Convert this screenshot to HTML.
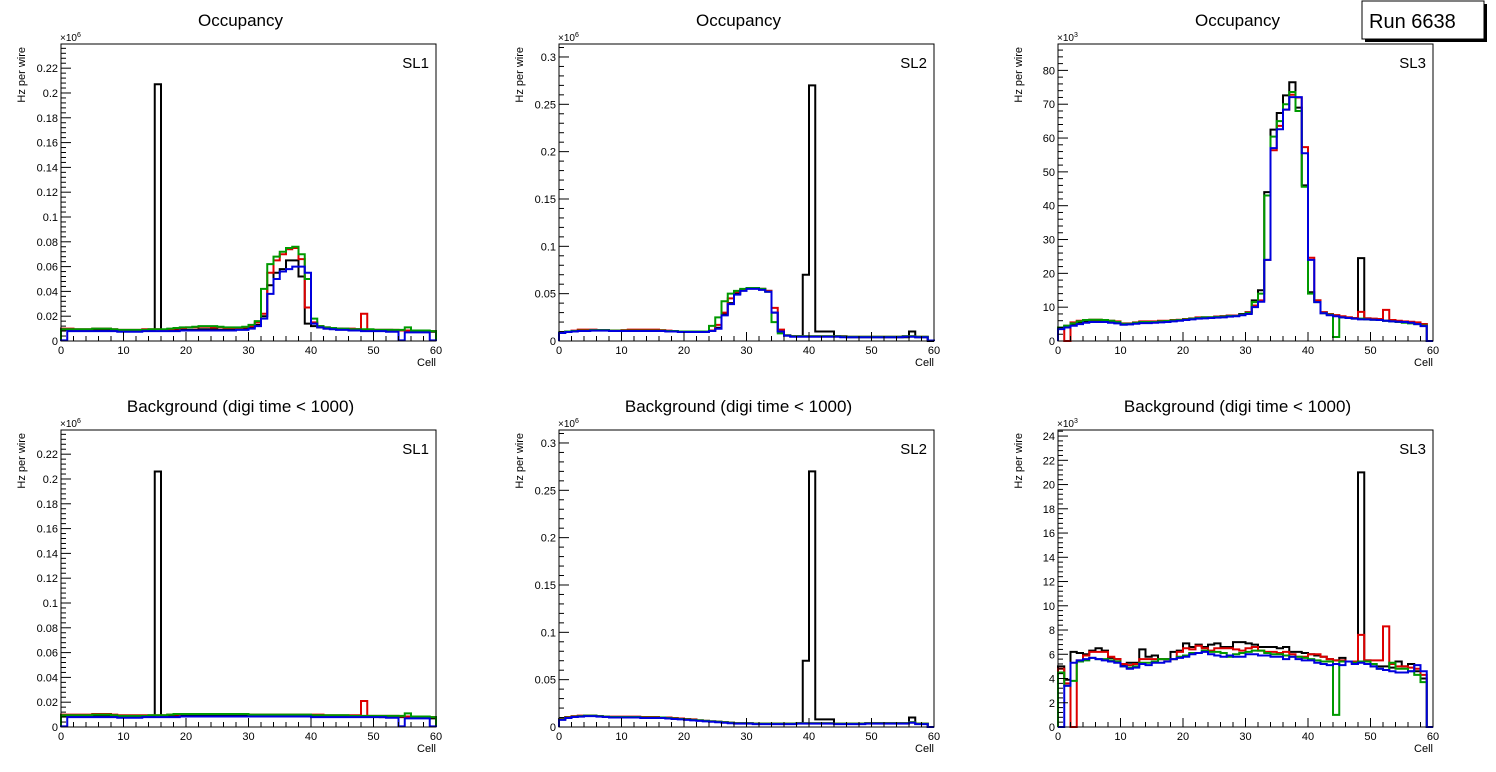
<!DOCTYPE html>
<html><head><meta charset="utf-8"><style>
html,body{margin:0;padding:0;background:#fff;}
svg{display:block;font-family:"Liberation Sans",Arial,sans-serif;}
</style></head><body>
<svg id="c" width="1496" height="772" viewBox="0 0 1496 772"></svg>
<script>
// ---- data (values per Cell bin 0..59) ----
const cells = 60;
// Panel 1: Occupancy SL1 (x1e3)
const occSL1Black=[9,9,9,9,9,9,9,9,8.5,8.5,8.5,8.5,8.5,8.5,8.5,207,8.5,9,9,9,9,9,9.5,9.5,9.5,9,9,9,9.5,10,11,13,20,45,55,58,65,65,52,14,12,11,10,10,10,9.5,9.5,9.5,9,9,9,9,9,8.5,8.5,8.5,8,8,8,7.5];
const occSL1Red=[10,10,9.5,9.5,9.5,10,10,10,9.5,9,9,9,9,9.5,9.5,9.5,9,9.5,10,10.5,11,11,11.5,11.5,11,11,10.5,10.5,10.5,11,12,15,22,55,65,70,74,75,66,27,15,12,11,10.5,10,10,10,9.5,22,9,9,9,9,9,8.5,8.5,8.5,8.5,8,8];
const occSL1Green=[9.5,9.5,9.5,9.5,9.5,10,10,10,9.5,9,9,9,9,9,9.5,9.5,9.5,10,10.5,11,11,11.5,12,12,12,11.5,11,11,11,11.5,13,16,42,62,68,72,75,76,70,50,18,12,11,10.5,10,10,9.5,9.5,9.5,9.5,9,9,9,9,9,11,8.5,8.5,8.5,8];
const occSL1Blue=[0.5,8,8,8,8,8,8,8,8,7.5,7.5,7.5,7.5,8,8,8,8,8,8,8.5,8.5,8.5,8.5,8.5,8.5,8.5,8.5,8.5,9,9,10,12,18,38,50,56,58,60,60,55,14,11,10,9.5,9,9,8.5,8.5,8,8,8,8,7.5,7.5,0.5,7,7,7,7,0.5];
// Panel 2: Occupancy SL2 (x1e3)
const occSL2Black=[9,10,10.5,11,11,11.5,11.5,11.5,11,11,11,11,11,11,11,11,11,10.5,10.5,10,10,10,10,10,11,14,28,40,50,54,56,56,55,53,30,10,6,5,5,70,270,10,10,10,5,5,4,4,4,4,4,4,4,4,4,4,10,4,4,0];
const occSL2Red=[9,10,11,12,12,12,11.5,11.5,11,11,11.5,12,12,12,12,12,11.5,11,10.5,10,10,10,10,10,11,17,30,45,52,54,56,56,55,53,35,12,6,5,5,5,5,5,5,5,5,4.5,4.5,4.5,4.5,4.5,4.5,4.5,4.5,4.5,4.5,5,5,4.5,4.5,0.5];
const occSL2Green=[9,10,10.5,11,11,11.5,11.5,11.5,11,11,11,11,11,11,11,11,11,10.5,10.5,10,10,10,10,10,16,25,42,50,53,55,56,56,55,52,20,8,6,5,5,5,5,5,5,5,5,4.5,4.5,4.5,4.5,4.5,4.5,4.5,4.5,4.5,4.5,5,5,4.5,4.5,0.5];
const occSL2Blue=[8.5,9.5,10,10.5,10.5,11,11,11,10.5,10.5,10.5,10.5,10.5,10.5,10.5,10.5,10.5,10,10,9.5,9.5,9.5,9.5,9.5,10.5,13,27,39,49,53,55,55,54,52,30,10,5.5,4.5,4.5,4.5,4.5,4.5,4.5,4.5,4.5,4,4,4,4,4,4,4,4,4,4,4.5,4.5,4,4,0.5];
// Panel 3: Occupancy SL3 (x1e3)
const occSL3Black=[4,4.5,5,5.5,5.8,6,6,6,5.8,5.5,5,5,5.2,5.5,5.5,5.5,5.7,5.8,6,6.2,6.3,6.5,6.7,7,7,7.2,7.3,7.5,7.5,8,8.5,12,15,44,62.5,67.4,72.6,76.5,69,46,14.4,12,8.5,8,7.6,7.2,7,6.8,24.5,6.7,6.5,6.3,6,6,5.8,5.7,5.5,5.2,5,0];
const occSL3Red=[4,0,5.5,6,6.2,6.3,6.3,6.2,6,5.8,5.2,5.2,5.5,5.8,5.8,5.8,6,6,6.2,6.3,6.5,6.7,7,7,7,7.2,7.3,7.5,7.5,7.8,8.5,10.5,12,24,56.4,63.6,68.4,72.8,72,57.3,24.6,12,8.5,8,7.6,7.3,7,6.8,8.6,6.7,6.6,6.5,9.2,6.2,6,5.8,5.7,5.5,5,0];
const occSL3Green=[4,4.5,5.2,5.8,6.2,6.3,6.3,6.2,6,5.6,5.1,5.1,5.4,5.6,5.6,5.6,5.8,5.9,6.1,6.2,6.4,6.6,6.8,7,7,7.1,7.2,7.4,7.4,7.8,8.3,11.5,14,43,60.4,65,70,73.6,68,45.6,14,11.5,8.2,7.8,1.2,7,6.8,6.6,6.6,6.4,6.3,6.2,6,5.8,5.6,5.4,5.2,5,4.6,0];
const occSL3Blue=[3.5,4,4.5,5,5.4,5.6,5.6,5.6,5.4,5.2,4.8,4.9,5.1,5.3,5.3,5.4,5.5,5.6,5.8,6,6.2,6.4,6.6,6.7,6.8,6.9,7,7.2,7.3,7.6,8,10,11.6,24,57,62.6,68.4,72.1,72.1,55.5,24,11.5,8.2,7.6,7.3,7,6.8,6.6,6.4,6.4,6.3,6.2,6,5.8,5.7,5.6,5.4,5,4.4,0];
// Panel 4: Background SL1 (x1e3)
const bkgSL1Black=[8.5,9,9,9,9,9,9,9,8.5,8.5,8.5,8.5,8.5,8.5,8.5,206,8.5,9,9,9,9,9,9,9,9,9,9,9,9,9,9,9,9,9,9,9,9,9,9,9,8.5,8.5,8.5,8.5,8.5,8.5,8.5,8.5,8.5,8.5,8.5,8,8,8,8,8,8,7.5,7.5,7];
const bkgSL1Red=[10,10,10,10,10,10.5,10.5,10.5,10,9.5,9.5,9.5,9.5,9.5,9.5,9.5,9.5,10,10,10.5,10.5,10.5,10.5,10.5,10.5,10.5,10.5,10.5,10.5,10.5,10,10,10,10,10,10,10,10,10,10,10,10,9.5,9.5,9.5,9.5,9.5,9.5,21,9,9,9,9,9,8.5,8.5,8.5,8.5,8,8];
const bkgSL1Green=[9.5,9.5,9.5,9.5,9.5,10,10,10,9.5,9,9,9,9,9,9.5,9.5,9.5,10,10.5,10.5,10.5,10.5,10.5,10.5,10.5,10.5,10.5,10.5,10.5,10.5,10,10,10,10,10,10,10,10,10,10,9.5,9.5,9.5,9.5,9.5,9.5,9,9,9,9,9,9,9,9,9,11,8.5,8.5,8.5,8];
const bkgSL1Blue=[0.5,8,8,8,8,8,8,8,8,7.5,7.5,7.5,7.5,8,8,8,8,8,8,8.5,8.5,8.5,8.5,8.5,8.5,8.5,8.5,8.5,8.5,8.5,8.5,8.5,8.5,8.5,8.5,8.5,8.5,8.5,8.5,8.5,8,8,8,8,8,8,8,8,8,8,8,8,7.5,7.5,0.5,7,7,7,7,0.5];
// Panel 5: Background SL2 (x1e3)
const bkgSL2Black=[8,10,11,11.5,12,12,11.5,11,10.5,10.5,10.5,10.5,10.5,10,10,10,10,9.5,9,8.5,8,7.5,7,6.5,6,5.5,5,4.5,4,4,4,3.5,3.5,3.5,3.5,3.5,3.5,3.5,4,70,270,8,8,8,3.5,3.5,3.5,3.5,3.5,4,4,4,4,4,4,4,10,3.5,3.5,0];
const bkgSL2Red=[8.5,10.5,11.5,12,12,12,11.5,11,11,11,11,11,11,10.5,10.5,10.5,10,10,9.5,9,8.5,8,7,6.5,6,5.5,5,4.5,4,4,4,3.5,3.5,3.5,3.5,3.5,3.5,3.5,4,4,4,4,4,4,3.5,3.5,3.5,3.5,3.5,4,4,4,4,4,4,4,5,3.5,3.5,0];
const bkgSL2Green=[8,10,11,11.5,12,12,11.5,11,10.5,10.5,10.5,10.5,10.5,10,10,10,10,9.5,9,8.5,8,7.5,7,6.5,6,5.5,5,4.5,4,4,4,3.5,3.5,3.5,3.5,3.5,3.5,3.5,4,4,4,4,4,4,3.5,3.5,3.5,3.5,3.5,4,4,4,4,4,4,4,5,3.5,3.5,0];
const bkgSL2Blue=[7.5,9.5,10.5,11,11.5,11.5,11,10.5,10,10,10,10,10,9.5,9.5,9.5,9.5,9,8.5,8,7.5,7,6.5,6,5.5,5,4.5,4,3.5,3.5,3.5,3,3,3,3,3,3,3,3.5,3.5,3.5,3.5,3.5,3.5,3,3,3,3,3,3.5,3.5,3.5,3.5,3.5,3.5,3.5,4.5,3,3,0];
// Panel 6: Background SL3 (x1e3)
const bkgSL3Black=[5,3.9,6.2,6.1,6,6.3,6.5,6.3,5.7,5.6,5.1,5.3,5.3,6.4,5.8,5.9,5.6,5.6,6.2,6.3,6.9,6.6,6.8,6.6,6.8,6.9,6.6,6.6,7,7,6.9,6.8,6.6,6.6,6.6,6.5,6.6,6.2,6.2,6.1,6,5.9,5.8,5.6,5.5,5.7,5.4,5.4,21,5.5,5,5,5,4.9,5.4,5,5.2,4.6,4,0];
const bkgSL3Red=[4.8,3.6,0,5.5,5.9,6.2,6.2,6.2,5.8,5.6,5.2,5.1,5.2,5.6,5.6,5.6,5.6,5.6,5.6,6.2,6.5,6.4,6.7,6.5,6.3,6.5,6.5,6.5,6.4,6.3,6.5,6.6,6.3,6.2,6.2,6.1,6.2,6,5.8,5.8,6,6,5.8,5.6,5.5,5.5,5.4,5.4,7.6,5.5,5.5,5.5,8.3,5.2,5,5,4.9,4.8,4.3,0];
const bkgSL3Green=[4.5,3.4,3.8,5.4,5.5,5.7,5.6,5.6,5.5,5.4,5,4.9,5,5.3,5.3,5.4,5.6,5.6,5.6,5.8,5.9,6.1,6.1,6.3,6.2,6.2,6.1,5.8,6,6.1,6.2,6.3,6.3,6.1,6,6,5.9,5.8,5.8,5.7,5.6,5.5,5.4,5.4,1,5.4,5.4,5.3,5.4,5.4,5.2,4.8,4.7,5.3,4.8,4.8,4.6,4.3,3.7,0];
const bkgSL3Blue=[0,3.4,5.3,5.5,5.6,5.7,5.6,5.5,5.4,5.3,5,4.8,4.9,5.2,5.1,5.3,5.3,5.4,5.6,5.7,5.8,6,6.1,6.2,6,5.9,5.8,5.9,5.8,5.8,6,6,5.9,5.9,5.8,5.8,5.6,5.8,5.6,5.5,5.5,5.3,5.2,5.1,5.2,5.1,5.4,5.2,5.3,5.2,5,4.8,4.7,4.6,4.5,4.5,4.6,5.1,4.6,0];

const xTickLabels=["0","10","20","30","40","50","60"];
const yLabelsSL1=["0","0.02","0.04","0.06","0.08","0.1","0.12","0.14","0.16","0.18","0.2","0.22"];
const yLabelsSL2=["0","0.05","0.1","0.15","0.2","0.25","0.3"];
const yLabelsOccSL3=["0","10","20","30","40","50","60","70","80"];
const yLabelsBkgSL3=["0","2","4","6","8","10","12","14","16","18","20","22","24"];

const NS="http://www.w3.org/2000/svg";
const svg=document.getElementById('c');
function mk(tag,attrs,parent){const e=document.createElementNS(NS,tag);for(const k in attrs)e.setAttribute(k,attrs[k]);(parent||svg).appendChild(e);return e;}

const W=375,H=297;
const panels=[
 {name:'occ-sl1',x0:61,y0:44,ymax:239.5,major:20,minor:4,labels:yLabelsSL1,exp:'6',title:'Occupancy',sl:'SL1',series:[occSL1Black,occSL1Red,occSL1Green,occSL1Blue]},
 {name:'occ-sl2',x0:559,y0:44,ymax:313.7,major:50,minor:10,labels:yLabelsSL2,exp:'6',title:'Occupancy',sl:'SL2',series:[occSL2Black,occSL2Red,occSL2Green,occSL2Blue]},
 {name:'occ-sl3',x0:1058,y0:44,ymax:87.8,major:10,minor:2,labels:yLabelsOccSL3,exp:'3',title:'Occupancy',sl:'SL3',series:[occSL3Black,occSL3Red,occSL3Green,occSL3Blue]},
 {name:'bkg-sl1',x0:61,y0:430,ymax:239.5,major:20,minor:4,labels:yLabelsSL1,exp:'6',title:'Background (digi time < 1000)',sl:'SL1',series:[bkgSL1Black,bkgSL1Red,bkgSL1Green,bkgSL1Blue]},
 {name:'bkg-sl2',x0:559,y0:430,ymax:313.7,major:50,minor:10,labels:yLabelsSL2,exp:'6',title:'Background (digi time < 1000)',sl:'SL2',series:[bkgSL2Black,bkgSL2Red,bkgSL2Green,bkgSL2Blue]},
 {name:'bkg-sl3',x0:1058,y0:430,ymax:24.5,major:2,minor:0.4,labels:yLabelsBkgSL3,exp:'3',title:'Background (digi time < 1000)',sl:'SL3',series:[bkgSL3Black,bkgSL3Red,bkgSL3Green,bkgSL3Blue]}
];
const colors=['#000000','#dd0000','#009900','#0000dd'];
const colorNames=['black','red','green','blue'];

panels.forEach(p=>{
  const g=mk('g',{});
  
  
  const xs=v=>p.x0+v/cells*W;
  const ys=v=>p.y0+H-Math.min(v,p.ymax)/p.ymax*H;
  const t=mk('text',{x:p.x0+W/2-8,y:p.y0-18,'font-size':17,'text-anchor':'middle'},g);t.textContent=p.title;
  
  
  p.series.forEach((arr,si)=>{
    let d='M'+xs(0)+','+ys(0);
    arr.forEach((v,i)=>{d+=' L'+xs(i)+','+ys(v)+' L'+xs(i+1)+','+ys(v);});
    d+=' L'+xs(cells)+','+ys(0);
    const pth=mk('path',{d:d,fill:'none',stroke:colors[si],'stroke-width':2,'stroke-linejoin':'miter'},g);
    
    
  });
  const fr=mk('rect',{x:p.x0,y:p.y0,width:W,height:H,fill:'none',stroke:'#000','stroke-width':1},g);
  
  
  for(let c=0;c<=cells;c+=2){
    const major=c%10===0;
    mk('line',{x1:xs(c),x2:xs(c),y1:p.y0+H,y2:p.y0+H-(major?9:5),stroke:'#000','stroke-width':1},g);
  }
  xTickLabels.forEach((lab,i)=>{
    const tx=mk('text',{x:xs(i*10),y:p.y0+H+13,'font-size':11,'text-anchor':'middle'},g);tx.textContent=lab;
    
    
  });
  const xl=mk('text',{x:p.x0+W,y:p.y0+H+25,'font-size':11,'text-anchor':'end'},g);xl.textContent='Cell';
  
  
  const nMinor=Math.round(p.ymax/p.minor);
  const perMajor=Math.round(p.major/p.minor);
  for(let k=0;k<=nMinor;k++){
    const v=k*p.minor; if(v>p.ymax)break;
    const major=k%perMajor===0;
    mk('line',{x1:p.x0,x2:p.x0+(major?10:5),y1:ys(v),y2:ys(v),stroke:'#000','stroke-width':1},g);
  }
  p.labels.forEach((lab,i)=>{
    const ty=mk('text',{x:p.x0-3,y:ys(i*p.major)+4,'font-size':11,'text-anchor':'end'},g);ty.textContent=lab;
    
    
  });
  const ex=mk('text',{x:p.x0-1,y:p.y0-3,'font-size':10},g);
  ex.innerHTML='×10<tspan dy="-4" font-size="7">'+p.exp+'</tspan>';
  
  
  const yl=mk('text',{x:0,y:0,'font-size':11,'text-anchor':'end',transform:'translate('+(p.x0-36)+','+(p.y0+3)+') rotate(-90)'},g);yl.textContent='Hz per wire';
  
  
  const sl=mk('text',{x:p.x0+W-7,y:p.y0+24,'font-size':15,'text-anchor':'end'},g);sl.textContent=p.sl;
  
  
});

const rb=mk('g',{});


mk('rect',{x:1365,y:4,width:122,height:38,fill:'#000'},rb);
mk('rect',{x:1362,y:1,width:122,height:38,fill:'#fff',stroke:'#000','stroke-width':1},rb);
const rt=mk('text',{x:1369,y:28,'font-size':20},rb);rt.textContent='Run 6638';


</script>
</body></html>
